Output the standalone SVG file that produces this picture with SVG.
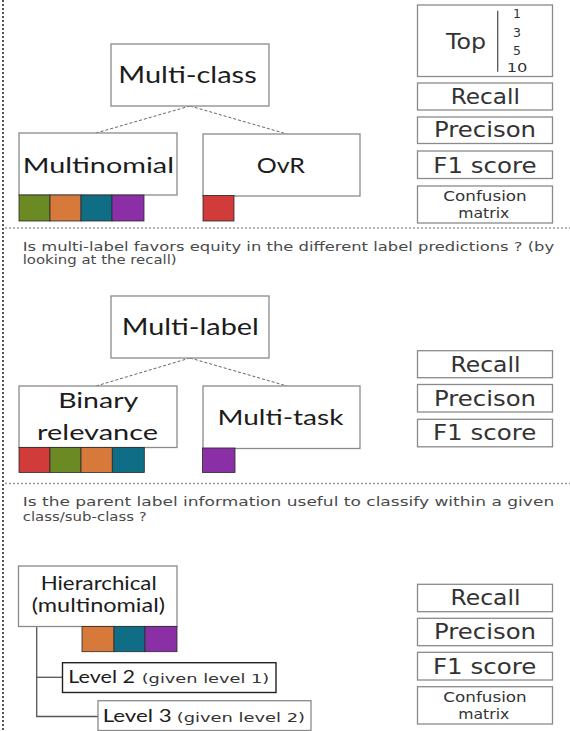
<svg xmlns="http://www.w3.org/2000/svg" width="570" height="731" viewBox="0 0 570 731">
<defs>
<style>
.box{fill:#fff;stroke:#8a8a8a;stroke-width:1.3}
.dark{fill:#fff;stroke:#222;stroke-width:1.4}
.hd{font-family:Lato,"Open Sans","Liberation Sans",sans-serif;fill:#1c1c1c}
.mt{font-family:"DejaVu Sans",Verdana,sans-serif;fill:#333}
.q{font-family:"DejaVu Sans",Verdana,sans-serif;font-size:11.4px;fill:#4a4a4a}
.sq{stroke:#2a2a2a;stroke-width:0.8}
.red{fill:#d13c3a}.olive{fill:#6b8a23}.orange{fill:#d7793b}.teal{fill:#0f6e86}.purple{fill:#8b2fa6}
.conn{stroke:#666;stroke-width:1;stroke-dasharray:3 2;fill:none}
.tree{stroke:#555;stroke-width:1.3;fill:none}
.sep{stroke:#999;stroke-width:1.5;stroke-dasharray:2 2;fill:none}
.vsep{stroke:#555;stroke-width:2;stroke-dasharray:2 2;fill:none}
</style>
</defs>
<rect width="570" height="731" fill="#fff"/>
<g id="frame">
<line class="vsep" x1="3" y1="0" x2="3" y2="731"/>
<line class="sep" x1="5" y1="228" x2="570" y2="228"/>
<line class="sep" x1="5" y1="483.5" x2="570" y2="483.5"/>
</g>
<g id="connectors">
<line class="conn" x1="190" y1="106" x2="96" y2="133"/>
<line class="conn" x1="190" y1="106" x2="287" y2="134"/>
<line class="conn" x1="190" y1="358" x2="96" y2="386"/>
<line class="conn" x1="190" y1="358" x2="287" y2="386"/>
<polyline class="tree" points="36.7,626.5 36.7,716.5 98,716.5"/>
<line class="tree" x1="36.7" y1="677.3" x2="62.5" y2="677.3"/>
</g>
<!-- Section 1 -->
<g id="multi-class">
<rect class="box" x="111" y="44" width="158" height="62"/>
<text class="hd" x="118.3" y="83.3" font-size="23" textLength="138.4" lengthAdjust="spacingAndGlyphs">Multi-class</text>
</g>
<g id="multinomial">
<rect class="box" x="19" y="133" width="158" height="62"/>
<text class="hd" x="22.7" y="172.7" font-size="22" textLength="151.3" lengthAdjust="spacingAndGlyphs">Multinomial</text>
<rect class="sq olive" x="19" y="195" width="31" height="26"/>
<rect class="sq orange" x="50" y="195" width="31" height="26"/>
<rect class="sq teal" x="81" y="195" width="31" height="26"/>
<rect class="sq purple" x="112" y="195" width="32" height="26"/>
</g>
<g id="ovr">
<rect class="box" x="203" y="134" width="157" height="62"/>
<text class="hd" x="256.7" y="172.7" font-size="22" textLength="48.3" lengthAdjust="spacingAndGlyphs">OvR</text>
<rect class="sq red" x="203" y="195.5" width="31" height="25.5"/>
</g>
<g id="top1">
<rect class="box" x="417.5" y="5" width="135" height="71.5"/>
<line x1="497.7" y1="10.7" x2="497.7" y2="71.7" stroke="#555" stroke-width="1.3"/>
<text class="mt" x="446" y="49.3" font-size="22" textLength="40" lengthAdjust="spacingAndGlyphs">Top</text>
<text class="mt" x="517" y="18.3" font-size="12.5" text-anchor="middle">1</text>
<text class="mt" x="517" y="36.7" font-size="12.5" text-anchor="middle">3</text>
<text class="mt" x="517" y="55" font-size="12.5" text-anchor="middle">5</text>
<text class="mt" x="506.7" y="71.7" font-size="12.5" textLength="20.7" lengthAdjust="spacingAndGlyphs">10</text>
</g>
<g id="recall1">
<rect class="box" x="417.5" y="83" width="135" height="27"/>
<text class="mt" x="450.7" y="104" font-size="20.5" textLength="69.3" lengthAdjust="spacingAndGlyphs">Recall</text>
</g>
<g id="precision1">
<rect class="box" x="417.5" y="117" width="135" height="26.5"/>
<text class="mt" x="434" y="137.3" font-size="20.5" textLength="102" lengthAdjust="spacingAndGlyphs">Precison</text>
</g>
<g id="f1-1">
<rect class="box" x="417.5" y="151" width="135" height="27.5"/>
<text class="mt" x="433.3" y="173.3" font-size="20.5" textLength="103.4" lengthAdjust="spacingAndGlyphs">F1 score</text>
</g>
<g id="confusion1">
<rect class="box" x="417.5" y="186" width="135" height="37"/>
<text class="mt" x="443.3" y="200.7" font-size="14" fill="#444" textLength="83.4" lengthAdjust="spacingAndGlyphs">Confusion</text>
<text class="mt" x="458.3" y="218.3" font-size="14" fill="#444" textLength="51" lengthAdjust="spacingAndGlyphs">matrix</text>
</g>
<!-- Section 2 -->
<g id="question2">
<text class="q" x="22.7" y="250.7" textLength="531.5" lengthAdjust="spacingAndGlyphs">Is multi-label favors equity in the different label predictions ? (by</text>
<text class="q" x="22.7" y="264.3" textLength="154" lengthAdjust="spacingAndGlyphs">looking at the recall)</text>
</g>
<g id="multi-label">
<rect class="box" x="111" y="296" width="158" height="62"/>
<text class="hd" x="121.8" y="335" font-size="23" textLength="137" lengthAdjust="spacingAndGlyphs">Multi-label</text>
</g>
<g id="binary-relevance">
<rect class="box" x="19" y="386" width="158" height="61.5"/>
<text class="hd" x="58.2" y="408.3" font-size="22" textLength="80" lengthAdjust="spacingAndGlyphs">Binary</text>
<text class="hd" x="37.1" y="440" font-size="22" textLength="121" lengthAdjust="spacingAndGlyphs">relevance</text>
<rect class="sq red" x="19" y="447.5" width="31" height="25"/>
<rect class="sq olive" x="50" y="447.5" width="31" height="25"/>
<rect class="sq orange" x="81" y="447.5" width="31.3" height="25"/>
<rect class="sq teal" x="112.3" y="447.5" width="32" height="25"/>
</g>
<g id="multi-task">
<rect class="box" x="203" y="386" width="157" height="62.5"/>
<text class="hd" x="217.4" y="425" font-size="22" textLength="126" lengthAdjust="spacingAndGlyphs">Multi-task</text>
<rect class="sq purple" x="202.5" y="448" width="32.5" height="24.5"/>
</g>
<g id="recall2">
<rect class="box" x="417.5" y="350.7" width="135" height="27"/>
<text class="mt" x="450.5" y="371.7" font-size="20.5" textLength="70" lengthAdjust="spacingAndGlyphs">Recall</text>
</g>
<g id="precision2">
<rect class="box" x="417.5" y="384.5" width="135" height="27.5"/>
<text class="mt" x="434" y="405.7" font-size="20.5" textLength="102" lengthAdjust="spacingAndGlyphs">Precison</text>
</g>
<g id="f1-2">
<rect class="box" x="417.5" y="419.3" width="135" height="27.5"/>
<text class="mt" x="433" y="440" font-size="20.5" textLength="103.4" lengthAdjust="spacingAndGlyphs">F1 score</text>
</g>
<!-- Section 3 -->
<g id="question3">
<text class="q" x="22.7" y="505.7" textLength="531.5" lengthAdjust="spacingAndGlyphs">Is the parent label information useful to classify within a given</text>
<text class="q" x="22.7" y="521" textLength="124" lengthAdjust="spacingAndGlyphs">class/sub-class ?</text>
</g>
<g id="hierarchical">
<rect class="box" x="18.5" y="566" width="158.5" height="60.5"/>
<text class="hd" x="40.7" y="590" font-size="19" textLength="116" lengthAdjust="spacingAndGlyphs">Hierarchical</text>
<text class="hd" x="31.7" y="611.7" font-size="19" textLength="133.3" lengthAdjust="spacingAndGlyphs">(multinomial)</text>
<rect class="sq orange" x="82" y="626.5" width="32" height="25.2"/>
<rect class="sq teal" x="114" y="626.5" width="31" height="25.2"/>
<rect class="sq purple" x="145" y="626.5" width="32" height="25.2"/>
</g>
<g id="level2">
<rect class="dark" x="62.5" y="662.7" width="213.5" height="29.8"/>
<text class="hd" x="68.3" y="683.3" font-size="17.5" fill="#333" textLength="66.7" lengthAdjust="spacingAndGlyphs">Level 2</text>
<text class="mt" x="141.7" y="683.3" font-size="12.5" textLength="127.6" lengthAdjust="spacingAndGlyphs">(given level 1)</text>
</g>
<g id="level3">
<rect class="box" x="98" y="700.7" width="213" height="29.8"/>
<text class="hd" x="102.7" y="721.7" font-size="17.5" fill="#222" textLength="69" lengthAdjust="spacingAndGlyphs">Level 3</text>
<text class="mt" x="176.7" y="721.7" font-size="12.5" textLength="128.3" lengthAdjust="spacingAndGlyphs">(given level 2)</text>
</g>
<g id="recall3">
<rect class="box" x="417.5" y="584.3" width="135" height="27.4"/>
<text class="mt" x="450.5" y="605" font-size="20.5" textLength="70" lengthAdjust="spacingAndGlyphs">Recall</text>
</g>
<g id="precision3">
<rect class="box" x="417.5" y="618.3" width="135" height="27.4"/>
<text class="mt" x="434" y="638.8" font-size="20.5" textLength="102" lengthAdjust="spacingAndGlyphs">Precison</text>
</g>
<g id="f1-3">
<rect class="box" x="417.5" y="652.3" width="135" height="27.7"/>
<text class="mt" x="433" y="673.5" font-size="20.5" textLength="103.4" lengthAdjust="spacingAndGlyphs">F1 score</text>
</g>
<g id="confusion3">
<rect class="box" x="417.5" y="686.7" width="135" height="37.3"/>
<text class="mt" x="443.3" y="702.3" font-size="14" fill="#444" textLength="83.4" lengthAdjust="spacingAndGlyphs">Confusion</text>
<text class="mt" x="458.3" y="719" font-size="14" fill="#444" textLength="51" lengthAdjust="spacingAndGlyphs">matrix</text>
</g>
</svg>
